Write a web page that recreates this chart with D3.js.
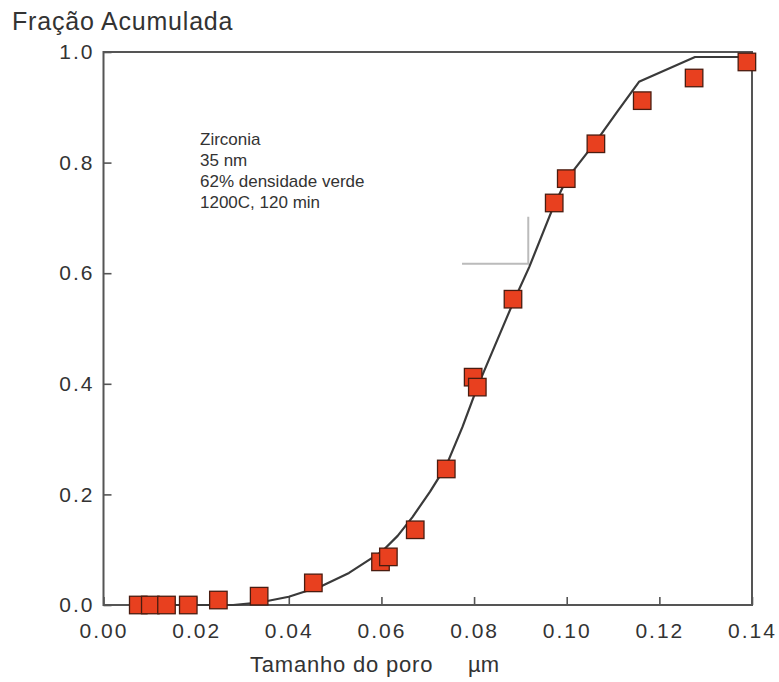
<!DOCTYPE html>
<html>
<head>
<meta charset="utf-8">
<script src="https://cdn.jsdelivr.net/npm/d3@7"></script>
<style>
  html, body { margin: 0; padding: 0; background: #fff; }
  svg { display: block; font-family: "Liberation Sans", Arial, sans-serif; }
</style>
</head>
<body>
<svg id="chart" width="779" height="682"></svg>
<script>
// Measured data points (pore size µm, cumulative fraction)
const poreSize = [0.0075, 0.0101, 0.0136, 0.0183, 0.0248, 0.0336, 0.0453, 0.0598, 0.0615, 0.0673,
                  0.0740, 0.0798, 0.0807, 0.0884, 0.0973, 0.0999, 0.1063, 0.1163, 0.1275, 0.1389];
const cumFraction = [0.000, 0.000, 0.000, 0.000, 0.009, 0.016, 0.040, 0.078, 0.087, 0.136,
                     0.246, 0.412, 0.394, 0.553, 0.727, 0.771, 0.834, 0.912, 0.953, 0.982];

// Fitted curve
const fitX = [0.008, 0.028, 0.034, 0.040, 0.047, 0.053, 0.060, 0.0635, 0.0667, 0.0705, 0.074,
              0.0775, 0.0807, 0.0887, 0.0919, 0.0973, 0.1000, 0.1063, 0.1110, 0.1156, 0.1277, 0.1400];
const fitY = [0.000, 0.000, 0.005, 0.015, 0.034, 0.058, 0.096, 0.125, 0.159, 0.205, 0.252,
              0.322, 0.394, 0.552, 0.611, 0.724, 0.770, 0.838, 0.893, 0.946, 0.991, 0.991];

// Gray guide lines
const guideX = [0.0774, 0.0917, 0.0917];
const guideY = [0.617, 0.617, 0.702];

const xTicks = [0.00, 0.02, 0.04, 0.06, 0.08, 0.10, 0.12, 0.14];
const yTicks = [0.0, 0.2, 0.4, 0.6, 0.8, 1.0];

const annotation = ["Zirconia", "35 nm", "62% densidade verde", "1200C, 120 min"];
const yTitle = "Fração Acumulada";
const xTitle = "Tamanho do poro";
const xUnit = "µm";

const svg = d3.select("#chart");
const x = d3.scaleLinear().domain([0, 0.14]).range([103.5, 752]);
const y = d3.scaleLinear().domain([0, 1]).range([605, 52]);

const textColor = "#333";

// X axis
const gx = svg.append("g").attr("transform", `translate(0,${y(0)})`)
  .call(d3.axisBottom(x).tickValues(xTicks).tickFormat(d3.format(".2f")).tickSize(-8).tickPadding(18));
gx.select(".domain").remove();
gx.selectAll(".tick line").attr("stroke", "#555").attr("stroke-width", 1.6);
gx.selectAll(".tick text").attr("fill", textColor).style("font-size", "21px").style("letter-spacing", "2px");

// Y axis
const gy = svg.append("g").attr("transform", `translate(${x(0)},0)`)
  .call(d3.axisLeft(y).tickValues(yTicks).tickFormat(d3.format(".1f")).tickSize(-8).tickPadding(9));
gy.select(".domain").remove();
gy.selectAll(".tick line").attr("stroke", "#555").attr("stroke-width", 1.6);
gy.selectAll(".tick text").attr("fill", textColor).style("font-size", "21px").style("letter-spacing", "2px");

// Frame
svg.append("rect")
  .attr("x", x(0)).attr("y", y(1))
  .attr("width", x(0.14) - x(0)).attr("height", y(0) - y(1))
  .attr("fill", "none").attr("stroke", "#555").attr("stroke-width", 2);

// Guide lines
svg.append("path")
  .datum(guideX.map((d, i) => [d, guideY[i]]))
  .attr("d", d3.line().x(d => x(d[0])).y(d => y(d[1])))
  .attr("fill", "none").attr("stroke", "#bbb").attr("stroke-width", 2);

// Fitted line
svg.append("path")
  .datum(fitX.map((d, i) => [d, fitY[i]]))
  .attr("d", d3.line().x(d => x(d[0])).y(d => y(d[1])))
  .attr("fill", "none").attr("stroke", "#3a3a3a").attr("stroke-width", 2.2)
  .attr("stroke-linejoin", "round");

// Markers
const s = 17.5;
svg.append("g").selectAll("rect")
  .data(poreSize.map((d, i) => [d, cumFraction[i]]))
  .join("rect")
  .attr("x", d => x(d[0]) - s / 2)
  .attr("y", d => y(d[1]) - s / 2)
  .attr("width", s).attr("height", s)
  .attr("fill", "#e8401f").attr("stroke", "#4a1c10").attr("stroke-width", 1.3);

// Annotation text
svg.append("g").selectAll("text")
  .data(annotation)
  .join("text")
  .attr("x", 200)
  .attr("y", (d, i) => 145 + i * 21)
  .attr("fill", textColor)
  .style("font-size", "17px")
  .text(d => d);

// Titles
svg.append("text").attr("x", 12).attr("y", 30)
  .attr("fill", textColor).style("font-size", "25px").style("letter-spacing", "0.8px")
  .text(yTitle);

svg.append("text").attr("x", 250).attr("y", 672)
  .attr("fill", textColor).style("font-size", "22px").style("letter-spacing", "0.8px")
  .text(xTitle);

svg.append("text").attr("x", 468).attr("y", 672)
  .attr("fill", textColor).style("font-size", "22px")
  .text(xUnit);
</script>
</body>
</html>
